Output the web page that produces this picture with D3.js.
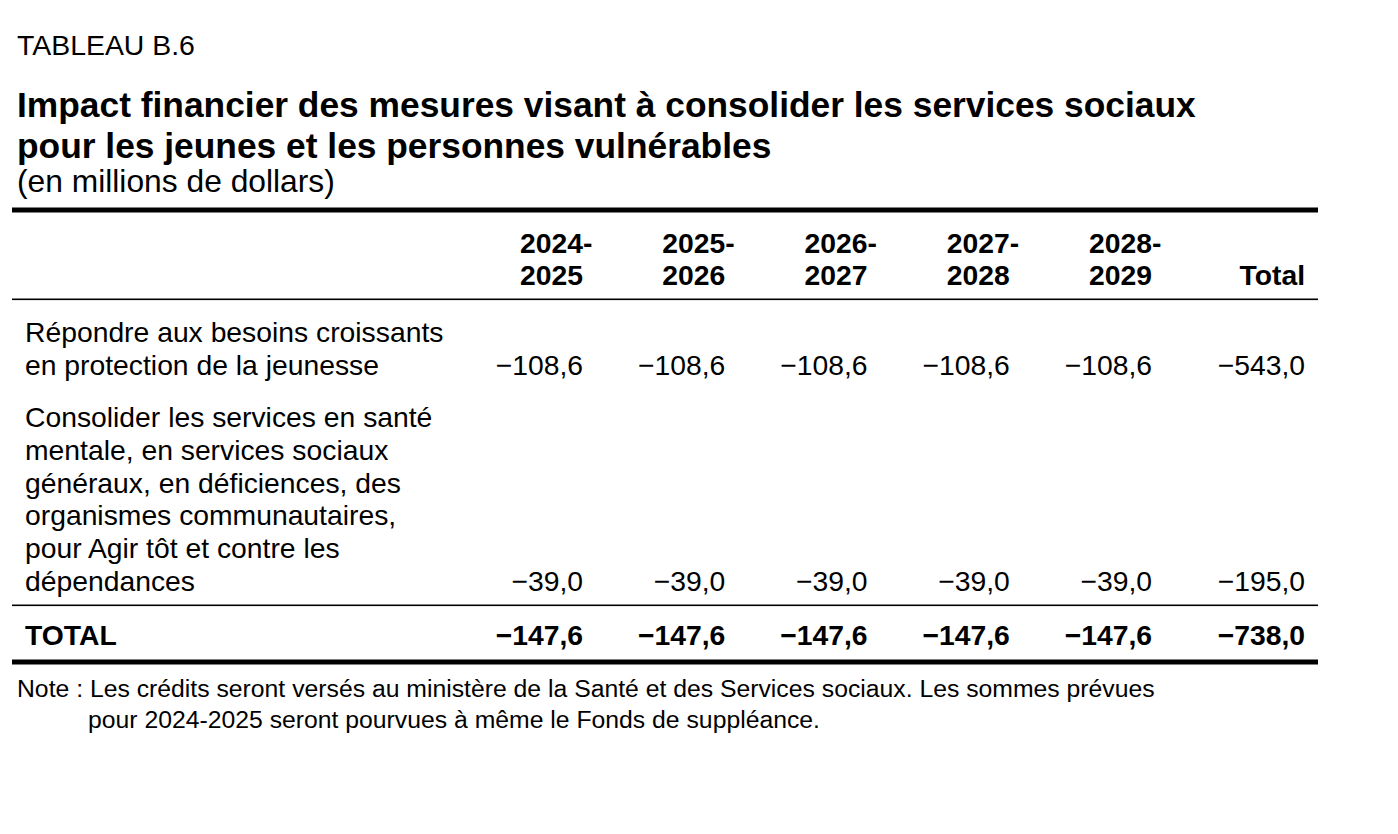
<!DOCTYPE html>
<html><head><meta charset="utf-8">
<script src="https://cdn.jsdelivr.net/npm/d3@7"></script>
<style>
html,body{margin:0;padding:0;background:#fff;}
svg{display:block;font-family:"Liberation Sans",Arial,Helvetica,sans-serif;}
</style></head>
<body>
<svg id="chart" width="1398" height="834"></svg>
<script>
// ---- data ----
const tableLabel = "TABLEAU B.6";
const titleLines = ["Impact financier des mesures visant à consolider les services sociaux",
                    "pour les jeunes et les personnes vulnérables"];
const subtitle = "(en millions de dollars)";
const periods = ["2024-2025", "2025-2026", "2026-2027", "2027-2028", "2028-2029"];
const totalHeader = "Total";
const row1Label = ["Répondre aux besoins croissants", "en protection de la jeunesse"];
const row1Values = [-108.6, -108.6, -108.6, -108.6, -108.6];
const row1Total = -543.0;
const row2Label = ["Consolider les services en santé", "mentale, en services sociaux",
                   "généraux, en déficiences, des", "organismes communautaires,",
                   "pour Agir tôt et contre les", "dépendances"];
const row2Values = [-39.0, -39.0, -39.0, -39.0, -39.0];
const row2Total = -195.0;
const totalLabel = "TOTAL";
const totalValues = [-147.6, -147.6, -147.6, -147.6, -147.6];
const grandTotal = -738.0;
const noteLines = ["Note : Les crédits seront versés au ministère de la Santé et des Services sociaux. Les sommes prévues",
                   "pour 2024-2025 seront pourvues à même le Fonds de suppléance."];

// ---- rendering ----
const svg = d3.select("#chart");
const loc = d3.formatLocale({decimal: ",", thousands: "\u00a0", grouping: [3], currency: ["", " $"], minus: "\u2212"});
const fmt = loc.format(".1f");

const x = d3.scalePoint().domain(periods).range([583, 1152]);
const xTotal = 1305;
const left = 12, right = 1318;

function fit(sel, target) {
  const w = sel.node().getComputedTextLength();
  const fs = parseFloat(sel.attr("font-size"));
  sel.attr("font-size", fs * target / w);
}

const tl = svg.append("text").attr("x", 17).attr("y", 55).attr("font-size", 22).text(tableLabel);
fit(tl, 178);

const t1 = svg.append("text").attr("x", 17).attr("y", 117).attr("font-size", 31)
  .attr("font-weight", "bold").text(titleLines[0]);
fit(t1, 1179);
const tfs = t1.attr("font-size");
svg.append("text").attr("x", 17).attr("y", 158).attr("font-size", tfs)
  .attr("font-weight", "bold").text(titleLines[1]);
const st = svg.append("text").attr("x", 17).attr("y", 192).attr("font-size", 26).text(subtitle);
fit(st, 318);

// rules
svg.append("rect").attr("x", left).attr("y", 207.5).attr("width", right - left).attr("height", 5).attr("fill", "#000");
svg.append("rect").attr("x", left).attr("y", 298.5).attr("width", right - left).attr("height", 1.6).attr("fill", "#000");
svg.append("rect").attr("x", left).attr("y", 604.5).attr("width", right - left).attr("height", 1.6).attr("fill", "#000");
svg.append("rect").attr("x", left).attr("y", 659.5).attr("width", right - left).attr("height", 5).attr("fill", "#000");

const bodyFs = 28.3;
// header
periods.forEach(p => {
  const [a, b] = p.split("-");
  const l2 = svg.append("text").attr("x", x(p)).attr("y", 285).attr("font-size", bodyFs)
    .attr("font-weight", "bold").attr("text-anchor", "end").text(b);
  const w2 = l2.node().getComputedTextLength();
  svg.append("text").attr("x", x(p) - w2).attr("y", 253).attr("font-size", bodyFs)
    .attr("font-weight", "bold").text(a + "-");
});
svg.append("text").attr("x", xTotal).attr("y", 285).attr("font-size", bodyFs)
  .attr("font-weight", "bold").attr("text-anchor", "end").text(totalHeader);

function drawRow(labels, firstBaseline, lineH, values, total, bold) {
  labels.forEach((l, i) => {
    svg.append("text").attr("x", 25).attr("y", firstBaseline + i * lineH)
      .attr("font-size", bodyFs).attr("font-weight", bold ? "bold" : "normal").text(l);
  });
  const vy = firstBaseline + (labels.length - 1) * lineH;
  svg.selectAll(null).data(values).enter().append("text")
    .attr("x", (d, i) => x(periods[i])).attr("y", vy)
    .attr("font-size", bodyFs).attr("font-weight", bold ? "bold" : "normal")
    .attr("text-anchor", "end").text(d => fmt(d));
  svg.append("text").attr("x", xTotal).attr("y", vy).attr("font-size", bodyFs)
    .attr("font-weight", bold ? "bold" : "normal").attr("text-anchor", "end").text(fmt(total));
}
drawRow(row1Label, 342, 32.5, row1Values, row1Total, false);
drawRow(row2Label, 427, 32.8, row2Values, row2Total, false);
drawRow([totalLabel], 645, 0, totalValues, grandTotal, true);

// note
const n1 = svg.append("text").attr("x", 17).attr("y", 697).attr("font-size", 21).text(noteLines[0]);
fit(n1, 1138);
svg.append("text").attr("x", 88).attr("y", 728).attr("font-size", n1.attr("font-size")).text(noteLines[1]);
</script>
</body></html>
